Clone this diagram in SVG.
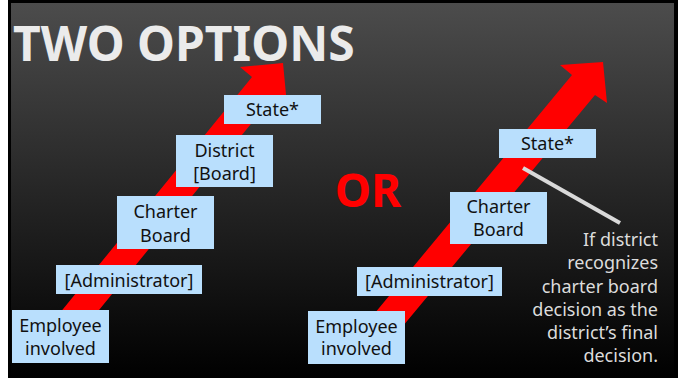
<svg xmlns="http://www.w3.org/2000/svg" width="683" height="378" viewBox="0 0 683 378">
  <defs>
    <linearGradient id="bg" x1="0" y1="0" x2="0" y2="1">
      <stop offset="0" stop-color="#4c4c4c"/>
      <stop offset="1" stop-color="#000000"/>
    </linearGradient>
    <style>
      .box { fill: #b9dffd; }
      .lbl { font-family: "Noto Sans", "DejaVu Sans", sans-serif; font-size: 18px; fill: #111111; text-anchor: middle; }
      .arrow { fill: #ff0000; }
      .note { font-family: "Noto Sans", "DejaVu Sans", sans-serif; font-size: 18px; fill: #dcdcdc; text-anchor: end; }
    </style>
  </defs>

  <rect x="0" y="0" width="683" height="378" fill="#ffffff"/>
  <rect x="8" y="0" width="670" height="378" fill="#000000"/>
  <rect x="11" y="3" width="663" height="375" fill="url(#bg)"/>

  <text x="13" y="61" font-family="'Noto Sans', 'DejaVu Sans', sans-serif" font-size="48" font-weight="bold" fill="#ebebeb">TWO OPTIONS</text>

  <g id="connectors">
    <polygon id="arrow-left" class="arrow" points="283,63 287,105 273,97 68,348 46,330 252,77 240,67"/>
    <polygon id="arrow-right" class="arrow" points="603,62 607,103 595,95 388,344 365,325 572,75 560,65"/>
    <line id="note-line" x1="523" y1="168" x2="620" y2="223" stroke="#d9d9d9" stroke-width="4"/>
  </g>

  <text x="368" y="207" font-family="'Noto Sans', 'DejaVu Sans', sans-serif" font-size="46" font-weight="bold" fill="#ff0000" text-anchor="middle">OR</text>

  <g id="left-state">
    <rect class="box" x="224" y="95" width="97" height="29"/>
    <text class="lbl" x="272.5" y="116">State*</text>
  </g>
  <g id="left-district">
    <rect class="box" x="176" y="135" width="97" height="52"/>
    <text class="lbl" x="224.5" y="157">District</text>
    <text class="lbl" x="224.5" y="180">[Board]</text>
  </g>
  <g id="left-charter">
    <rect class="box" x="117" y="196" width="97" height="53"/>
    <text class="lbl" x="165.5" y="218">Charter</text>
    <text class="lbl" x="165.5" y="242">Board</text>
  </g>
  <g id="left-admin">
    <rect class="box" x="56" y="265" width="146" height="29"/>
    <text class="lbl" x="129" y="287">[Administrator]</text>
  </g>
  <g id="left-employee">
    <rect class="box" x="12" y="310" width="97" height="53"/>
    <text class="lbl" x="60.5" y="332">Employee</text>
    <text class="lbl" x="60.5" y="355">involved</text>
  </g>

  <g id="right-state">
    <rect class="box" x="499" y="129" width="97" height="29"/>
    <text class="lbl" x="547.5" y="150">State*</text>
  </g>
  <g id="right-charter">
    <rect class="box" x="450" y="192" width="97" height="52"/>
    <text class="lbl" x="498.5" y="213">Charter</text>
    <text class="lbl" x="498.5" y="236">Board</text>
  </g>
  <g id="right-admin">
    <rect class="box" x="357" y="267" width="145" height="29"/>
    <text class="lbl" x="429.5" y="288">[Administrator]</text>
  </g>
  <g id="right-employee">
    <rect class="box" x="308" y="311" width="97" height="53"/>
    <text class="lbl" x="356.5" y="333">Employee</text>
    <text class="lbl" x="356.5" y="355">involved</text>
  </g>

  <g id="note">
    <text class="note" x="658" y="246">If district</text>
    <text class="note" x="658" y="269">recognizes</text>
    <text class="note" x="658" y="293">charter board</text>
    <text class="note" x="658" y="316">decision as the</text>
    <text class="note" x="658" y="339">district’s final</text>
    <text class="note" x="658" y="362">decision.</text>
  </g>
</svg>
